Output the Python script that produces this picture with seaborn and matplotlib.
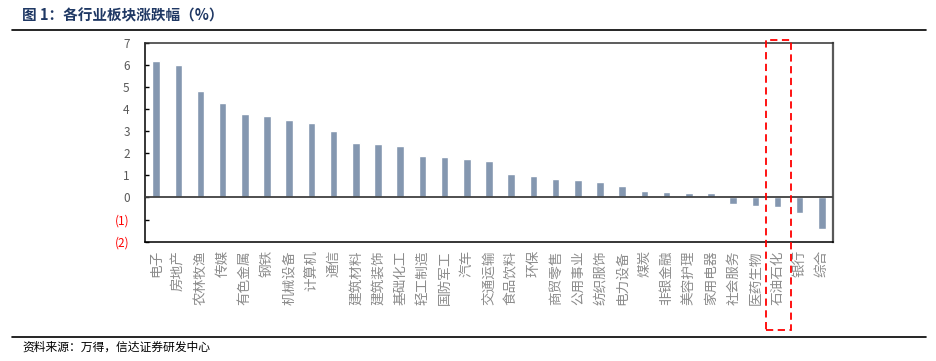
import matplotlib
matplotlib.use('Agg')
import matplotlib.pyplot as plt
import seaborn as sns
import pandas as pd
from matplotlib.patches import Rectangle
from matplotlib.lines import Line2D

industries = ['电子', '房地产', '农林牧渔', '传媒', '有色金属', '钢铁', '机械设备', '计算机',
              '通信', '建筑材料', '建筑装饰', '基础化工', '轻工制造', '国防军工', '汽车',
              '交通运输', '食品饮料', '环保', '商贸零售', '公用事业', '纺织服饰', '电力设备',
              '煤炭', '非银金融', '美容护理', '家用电器', '社会服务', '医药生物', '石油石化',
              '银行', '综合']
changes = [6.17, 6.01, 4.80, 4.28, 3.77, 3.70, 3.51, 3.36, 3.01, 2.45, 2.41, 2.35,
           1.87, 1.84, 1.73, 1.66, 1.07, 0.98, 0.84, 0.78, 0.68, 0.54, 0.30, 0.27,
           0.21, 0.21, -0.29, -0.38, -0.42, -0.68, -1.43]
yticks = [-2, -1, 0, 1, 2, 3, 4, 5, 6, 7]

sns.set_style('white')
plt.rcParams['font.family'] = ['Noto Sans CJK SC', 'DejaVu Sans']

df = pd.DataFrame({'industry': industries, 'change': changes})

W, H = 937, 361
fig = plt.figure(figsize=(W / 100, H / 100), dpi=100)

def fx(px):
    return px / W

def fy(py):
    return 1 - py / H

ax = fig.add_axes([fx(145), fy(241.7), fx(833) - fx(145), fy(42.7) - fy(241.7)])
sns.barplot(data=df, x='industry', y='change', color='#8497B0', saturation=1,
            width=0.34, ax=ax)
ax.set_xlim(-0.5, len(industries) - 0.5)
ax.set_ylim(-2, 7)
ax.axhline(0, color='#404040', lw=1.3, zorder=3)
ax.set_xlabel('')
ax.set_ylabel('')

# axes frame
ax.spines['left'].set_color('black')
ax.spines['bottom'].set_color('black')
ax.spines['top'].set_color('#303030')
ax.spines['right'].set_color('#595959')
for s in ax.spines.values():
    s.set_linewidth(1.1)
ax.spines['right'].set_linewidth(1.6)

# y ticks
ax.set_yticks(yticks)
ax.set_yticklabels([str(v) if v >= 0 else '(%d)' % abs(v) for v in yticks])
ax.tick_params(axis='y', direction='in', length=3, width=1, color='black',
               labelsize=8.5, pad=11, left=True)
for lbl, v in zip(ax.get_yticklabels(), yticks):
    lbl.set_color('#FF0000' if v < 0 else '#595959')

# category labels, rotated and hanging from the axis
ax.set_xticks(range(len(industries)))
ax.set_xticklabels(industries, fontsize=9.8, color='#8C8C8C', rotation=90,
                   ha='center', va='top')
ax.tick_params(axis='x', length=0, pad=6)

# highlight box
fig.patches.append(Rectangle((fx(765.7), fy(330)), fx(790.7) - fx(765.7), fy(40) - fy(330),
                             transform=fig.transFigure, fill=False, ec='#FF0000',
                             lw=1.3, ls=(0, (4, 2.5)), zorder=5))

# title, rules and source
fig.text(fx(22), fy(15), '图 1：各行业板块涨跌幅（%）', fontsize=10.5, fontweight='bold',
         color='#1F3864', va='center', ha='left')
fig.lines.append(Line2D([fx(12), fx(926)], [fy(30.3), fy(30.3)], transform=fig.transFigure,
                        color='black', lw=1.2))
fig.lines.append(Line2D([fx(12), fx(926)], [fy(337), fy(337)], transform=fig.transFigure,
                        color='black', lw=1.2))
fig.text(fx(22), fy(347), '资料来源：万得，信达证券研发中心', fontsize=8.5, style='italic',
         color='black', va='center', ha='left')

fig.savefig('out.png', dpi=100)
